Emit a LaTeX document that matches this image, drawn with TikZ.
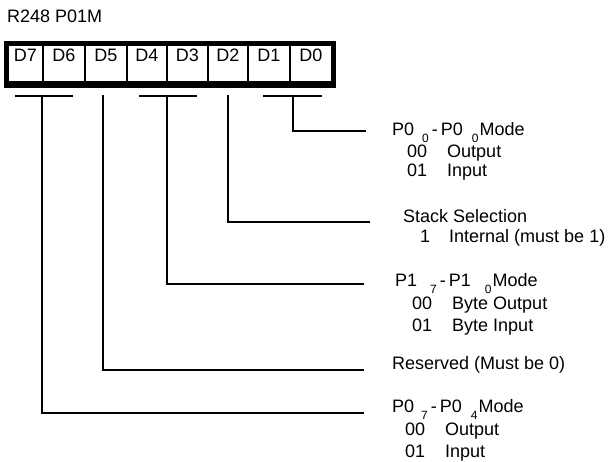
\documentclass[tikz,border=0pt]{standalone}
\usepackage{fontspec}
\setmainfont{Liberation Sans}
\usetikzlibrary{positioning}
\newcommand{\lowsub}[1]{\raisebox{-7pt}{\fontsize{12}{12}\selectfont #1}}

\begin{document}
\begin{tikzpicture}[x=1pt,y=-1pt,
  font=\fontsize{18}{19}\selectfont,
  bitcell/.style={draw, line width=1.6pt, minimum height=37pt, inner xsep=0pt,
    inner ysep=4pt, text height=13pt, text depth=16pt},
  bitbar/.style={line width=2.4pt},
  lead/.style={line width=2pt},
  note/.style={anchor=north west, align=left, inner sep=0pt}]
  \useasboundingbox (0,0) rectangle (608,462);

  \node[anchor=base west, inner sep=0pt] (title) at (7,23) {R248 P01M};

  % register cells
  \foreach \bit/\l/\r in {7/8/43, 6/43/85, 5/85/127, 4/127/167,
                          3/167/208, 2/208/248, 1/248/290, 0/290/332}
    \node[bitcell, minimum width={\r pt-\l pt}] (d\bit) at ({(\l+\r)/2},63.5) {D\bit};
  \draw[line width=4pt] (6,43) rectangle (334,85);
  \fill (4,83) rectangle (336,88);

  % bit groups
  \draw[bitbar] (15,96) -- (73,96);
  \draw[bitbar] (139,96) -- (197,96);
  \draw[bitbar] (263,96) -- (322,96);
  \coordinate (b76) at (42,95);
  \coordinate (b5) at (103,95);
  \coordinate (b43) at (167,95);
  \coordinate (b2) at (228,95);
  \coordinate (b10) at (293,95);

  \coordinate (e10) at (366,131);
  \coordinate (e2) at (370,222);
  \coordinate (e43) at (364,284);
  \coordinate (e5) at (364,370);
  \coordinate (e76) at (364,413);

  \draw[lead] (b10) |- (e10);
  \draw[lead] (b2) |- (e2);
  \draw[lead] (b43) |- (e43);
  \draw[lead] (b5) |- (e5);
  \draw[lead] (b76) |- (e76);

  % field descriptions
  \node[note] (m10) at (392,122) {P0\hspace{8pt}\lowsub{0}\,-\,P0\hspace{9pt}\lowsub{0}\hspace{1pt}Mode\\[1.5pt]
    \hspace*{15pt}00\hspace{20pt}Output\\
    \hspace*{15pt}01\hspace{20pt}Input};
  \node[note] (m2) at (403,209) {Stack Selection\\[1pt]
    \hspace*{17pt}1\hspace{19pt}Internal (must be 1)};
  \node[note] (m43) at (395,273) {P1\hspace{13pt}\lowsub{7}\,-\,P1\hspace{14pt}\lowsub{0}\hspace{1pt}Mode\\[3pt]
    \hspace*{17pt}00\hspace{20pt}Byte Output\\[3pt]
    \hspace*{17pt}01\hspace{20pt}Byte Input};
  \node[note, anchor=base west] (m5) at (392,370) {Reserved (Must be 0)};
  \node[note] (m76) at (392,399) {P0\hspace{7pt}\lowsub{7}\,-\,P0\hspace{9pt}\lowsub{4}\hspace{1pt}Mode\\[3pt]
    \hspace*{13pt}00\hspace{20pt}Output\\[3pt]
    \hspace*{13pt}01\hspace{20pt}Input};
\end{tikzpicture}
\end{document}
